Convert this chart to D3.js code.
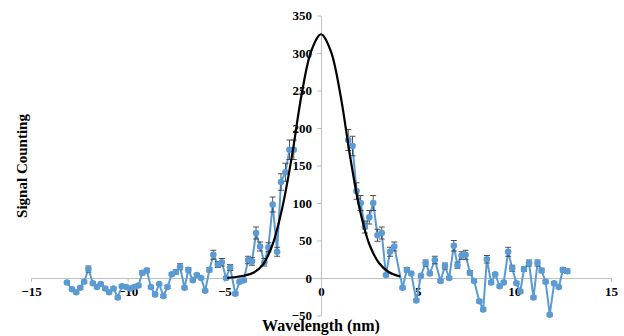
<!DOCTYPE html>
<html>
<head>
<meta charset="utf-8">
<script src="https://cdn.jsdelivr.net/npm/d3@7"></script>
<style>
  body { margin: 0; background: #fff; }
  text { font-family: "Liberation Serif", "Times New Roman", serif; font-weight: bold; }
</style>
</head>
<body>
<div id="chartContainer"></div>
<script>
// measured signal (nm, counts, error)
const wavelength = [
  -13.14, -12.88, -12.66, -12.45, -12.25, -12.03, -11.80, -11.59, -11.39, -11.16,
  -10.96, -10.73, -10.51, -10.30, -10.08, -9.87, -9.66, -9.44, -9.24, -9.01,
  -8.80, -8.58, -8.37, -8.15, -7.94, -7.72, -7.51, -7.29, -7.06, -6.86,
  -6.63, -6.42, -6.20, -5.99, -5.77, -5.57, -5.34, -5.13, -4.91, -4.70,
  -4.43, -4.21, -3.99, -3.77, -3.57, -3.36, -3.15, -2.93, -2.72, -2.50,
  -2.27, -2.07, -1.84, -1.63, -1.41,
  1.41, 1.63, 1.84, 2.05, 2.27, 2.50, 2.70, 2.92, 3.14, 3.36,
  3.57, 3.79, 4.22, 4.44, 4.67, 4.93, 5.17, 5.41, 5.63, 5.89,
  6.18, 6.41, 6.63, 6.87, 7.06, 7.27, 7.48, 7.70, 7.92, 8.19,
  8.39, 8.58, 8.80, 9.01, 9.24, 9.45, 9.68, 9.89, 10.11, 10.31,
  10.50, 10.76, 10.99, 11.20, 11.41, 11.62, 11.83, 12.06, 12.30, 12.51,
  12.74
];
const counts = [
  -6, -15, -19, -13, -5, 12, -7, -12, -8, -14,
  -19, -14, -26, -11, -12, -14, -12, -10, 7, 10,
  -12, -22, -8, -24, -12, 5, 8, 15, -13, 11,
  -3, 4, 0, -17, 11, 31, 18, 21, 0, 14,
  -21, -5, -3, 24, 22, 60, 42, 21, 41, 98,
  35, 128, 141, 171, 171,
  184, 176, 116, 100, 68, 81, 100, 57, 60, 4,
  35, 42, -13, 11, 6, -30, 3, 20, 6, 24,
  -4, 16, 0, 43, 17, 30, 31, 7, -4, -31,
  -42, 25, -6, 5, -11, -6, 35, 13, -7, -18,
  12, 20, -26, 20, 10, -5, -49, -7, -12, 11,
  9
];
const errors = [
  2, 2, 2, 2, 2, 4, 2, 2, 2, 2,
  2, 2, 2, 2, 2, 2, 2, 2, 3, 3,
  2, 2, 2, 2, 2, 2, 3, 4, 2, 3,
  2, 2, 2, 2, 3, 6, 4, 5, 2, 4,
  2, 2, 2, 5, 5, 8, 6, 5, 6, 10,
  6, 11, 12, 13, 13,
  14, 13, 11, 10, 8, 9, 10, 8, 8, 2,
  6, 6, 2, 3, 2, 2, 2, 4, 2, 5,
  2, 4, 2, 7, 4, 5, 6, 3, 2, 2,
  2, 5, 2, 2, 2, 2, 6, 4, 2, 2,
  3, 4, 2, 4, 3, 2, 2, 2, 2, 3,
  3
];

// fitted curve
const fitX = [-4.85, -4.5, -4, -3.5, -3, -2.5, -2, -1.5, -1, -0.5, 0, 0.5, 1, 1.5, 2, 2.5, 3, 3.5, 4.1];
const fitY = [0, 1, 3, 7, 18, 45, 94, 163, 245, 303, 325, 303, 245, 163, 92, 45, 20, 8, 2];

const xTicks = [-15, -10, -5, 0, 5, 10, 15];
const yTicks = [-50, 0, 50, 100, 150, 200, 250, 300, 350];

const width = 624;
const height = 336;

const svg = d3.select('#chartContainer')
  .append('svg')
  .attr('width', width)
  .attr('height', height);

const x = d3.scaleLinear().domain([-15, 15]).range([31, 611]);
const y = d3.scaleLinear().domain([-50, 350]).range([315.5, 15.5]);

// x axis sits on y = 0
const xAxis = svg.append('g')
  .attr('transform', 'translate(0,' + y(0) + ')')
  .call(d3.axisBottom(x).tickValues(xTicks).tickSize(4).tickSizeOuter(0).tickPadding(5));

// y axis sits on x = 0
const yAxis = svg.append('g')
  .attr('transform', 'translate(' + x(0) + ',0)')
  .call(d3.axisLeft(y).tickValues(yTicks).tickSize(4).tickSizeOuter(0).tickPadding(5));

[xAxis, yAxis].forEach(g => {
  g.select('.domain').attr('stroke', '#bfbfbf').attr('stroke-width', 1);
  g.selectAll('.tick line').attr('stroke', '#bfbfbf');
  g.selectAll('.tick text')
    .attr('fill', '#000')
    .style('font-family', '"Liberation Serif", "Times New Roman", serif')
    .style('font-weight', 'bold')
    .style('font-size', '13px');
});

const pts = wavelength.map((w, i) => ({ x: w, y: counts[i], e: errors[i] }));

// Add data line (two runs, nothing measured around the centre)
const line = d3.line().x(d => x(d.x)).y(d => y(d.y));
[pts.filter(d => d.x < 0), pts.filter(d => d.x > 0)].forEach(run => {
  svg.append('path')
    .datum(run)
    .attr('fill', 'none')
    .attr('stroke', '#5b9bd5')
    .attr('stroke-width', 2)
    .attr('stroke-linejoin', 'round')
    .attr('d', line);
});

// Add error bars
const eb = svg.selectAll('.err')
  .data(pts)
  .enter()
  .append('g')
  .attr('class', 'err')
  .attr('stroke', '#404040')
  .attr('stroke-width', 0.9);

eb.append('line')
  .attr('x1', d => x(d.x)).attr('x2', d => x(d.x))
  .attr('y1', d => y(d.y - d.e)).attr('y2', d => y(d.y + d.e));
eb.append('line')
  .attr('x1', d => x(d.x) - 3).attr('x2', d => x(d.x) + 3)
  .attr('y1', d => y(d.y + d.e)).attr('y2', d => y(d.y + d.e));
eb.append('line')
  .attr('x1', d => x(d.x) - 3).attr('x2', d => x(d.x) + 3)
  .attr('y1', d => y(d.y - d.e)).attr('y2', d => y(d.y - d.e));

// Add markers
svg.selectAll('.dot')
  .data(pts)
  .enter()
  .append('circle')
  .attr('class', 'dot')
  .attr('cx', d => x(d.x))
  .attr('cy', d => y(d.y))
  .attr('r', 3.3)
  .attr('fill', '#5b9bd5');

// Add fit curve
svg.append('path')
  .datum(fitX.map((v, i) => [v, fitY[i]]))
  .attr('fill', 'none')
  .attr('stroke', '#000')
  .attr('stroke-width', 2.2)
  .attr('d', d3.line().x(d => x(d[0])).y(d => y(d[1])).curve(d3.curveCatmullRom));

// Axis titles
svg.append('text')
  .attr('x', x(0))
  .attr('y', 331)
  .attr('text-anchor', 'middle')
  .style('font-size', '16px')
  .text('Wavelength (nm)');

svg.append('text')
  .attr('transform', 'translate(27,166) rotate(-90)')
  .attr('text-anchor', 'middle')
  .style('font-size', '15px')
  .text('Signal Counting');
</script>
</body>
</html>
